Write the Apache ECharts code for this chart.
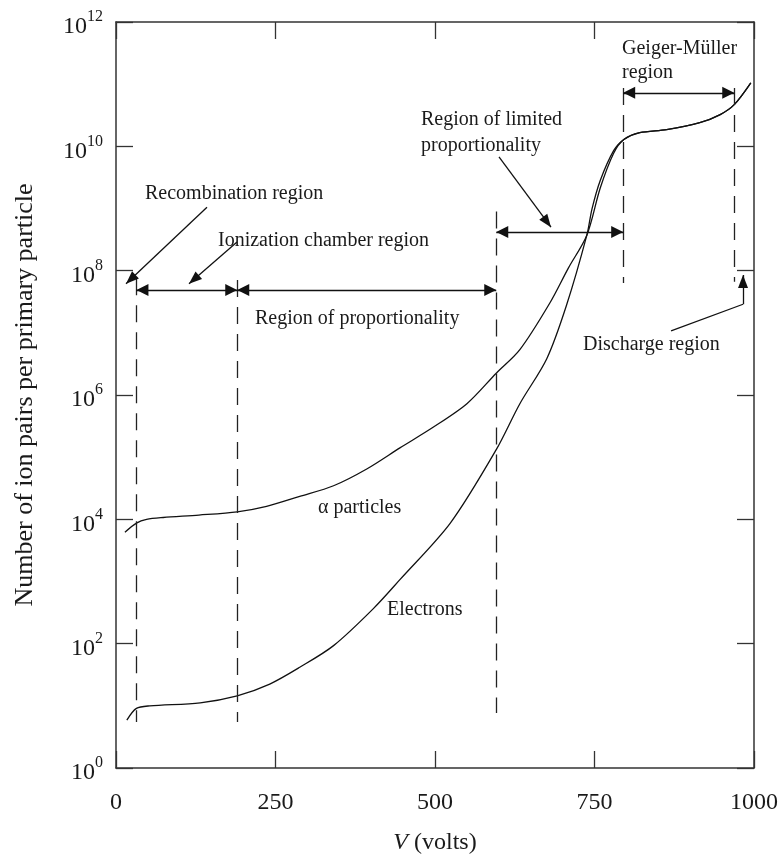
<!DOCTYPE html>
<html>
<head>
<meta charset="utf-8">
<script src="https://cdn.jsdelivr.net/npm/echarts@6/dist/echarts.min.js"></script>
<style>html,body{margin:0;padding:0;background:#fff}#chart{width:783px;height:855px}</style>
</head>
<body>
<div id="chart"></div>
<script>
// ---- data ----
const xTickValues = [0, 250, 500, 750, 1000];
const yTickExponents = [0, 2, 4, 6, 8, 10, 12];

const alphaVolts = [14, 32, 48, 74, 130, 190, 236, 288, 341, 393, 445, 497, 550, 596, 633, 680, 709, 738, 759, 780, 796, 821, 863, 915, 947, 969, 995];
const alphaPairs = [6.2e3, 8.7e3, 1.0e4, 1.07e4, 1.17e4, 1.32e4, 1.62e4, 2.34e4, 3.47e4, 6.46e4, 1.41e5, 3.02e5, 7.24e5, 2.24e6, 5.37e6, 3.02e7, 1.10e8, 3.72e8, 2.14e9, 7.76e9, 1.29e10, 1.66e10, 1.86e10, 2.40e10, 3.24e10, 4.68e10, 1.05e11];

const electronVolts = [17, 32, 53, 132, 190, 241, 288, 341, 403, 445, 524, 596, 633, 675, 706, 738, 746, 759, 780, 796, 821, 863, 915, 947, 969, 995];
const electronPairs = [5.9, 9.1, 10, 11.2, 14.5, 22.4, 41.7, 93, 363, 1.07e3, 8.7e3, 1.32e5, 7.24e5, 3.80e6, 2.75e7, 3.72e8, 9.77e8, 2.82e9, 8.51e9, 1.29e10, 1.66e10, 1.86e10, 2.40e10, 3.24e10, 4.68e10, 1.05e11];

// region boundaries (volts) and annotation geometry in data space [volts, log10(pairs)]
const dashedLines = [
  [[32, 7.88], [32, 0.74]],
  [[190, 7.85], [190, 0.74]],
  [[596, 8.95], [596, 0.885]],
  [[795, 10.94], [795, 7.80]],
  [[969, 10.94], [969, 7.82]]
];
const doubleArrows = [
  [[32, 7.69], [190, 7.69]],
  [[190, 7.69], [596, 7.69]],
  [[596, 8.62], [795, 8.62]],
  [[795, 10.86], [969, 10.86]]
];
const singleArrows = [
  [[142.6, 9.02], [15.7, 7.79]],
  [[189.7, 8.46], [114.4, 7.79]],
  [[600.3, 9.83], [681.8, 8.70]],
  [[982.8, 7.46], [982.8, 7.93]]
];
const plainLines = [
  [[870, 7.03], [982.8, 7.46]]
];

const annotationTexts = [
  ['Recombination region', 145, 194],
  ['Ionization chamber region', 218, 241],
  ['Region of proportionality', 255, 319],
  ['Region of limited', 421, 120],
  ['proportionality', 421, 146],
  ['Geiger-Müller', 622, 49],
  ['region', 622, 73],
  ['Discharge region', 583, 345],
  ['α particles', 318, 508],
  ['Electrons', 387, 610]
];

// ---- chart ----
const FONT = '"Liberation Serif", "Times New Roman", serif';
const INK = '#1a1a1a';
const AXIS = '#333';

const HEAD = { symbolOffset: [0, 6] };
const HEAD_WH = { symbolOffset: [0, 6.5], symbolSize: [10, 13] };

const toMl = (segs, fromExtra, toExtra) => segs.map(s => [
  Object.assign({ coord: [s[0][0], Math.pow(10, s[0][1])] }, fromExtra || {}),
  Object.assign({ coord: [s[1][0], Math.pow(10, s[1][1])] }, toExtra || {})
]);

const yLabelFormatter = v => '{b|10}{s|' + Math.round(Math.log10(v)) + '}';

const chart = echarts.init(document.getElementById('chart'), null, { renderer: 'canvas' });

const commonX = {
  type: 'value', min: 0, max: 1000, interval: 250,
  splitLine: { show: false },
  axisLine: { show: true, onZero: false, lineStyle: { color: AXIS, width: 1.5 } },
  axisTick: { show: true, inside: true, length: 17, lineStyle: { color: AXIS, width: 1.3 } }
};
const commonY = {
  type: 'log', logBase: 10, min: 1, max: 1e12, interval: 2,
  splitLine: { show: false },
  minorTick: { show: false },
  axisLine: { show: true, onZero: false, lineStyle: { color: AXIS, width: 1.5 } },
  axisTick: { show: true, inside: true, length: 17, lineStyle: { color: AXIS, width: 1.3 } }
};

const mlBase = {
  silent: true, animation: false, label: { show: false }, emphasis: { disabled: true },
  lineStyle: { color: '#111', width: 1.3, type: 'solid' }
};

chart.setOption({
  animation: false,
  backgroundColor: '#fff',
  grid: { left: 116, right: 29, top: 22, bottom: 87, containLabel: false, outerBoundsMode: 'none' },
  xAxis: [
    Object.assign({}, commonX, {
      position: 'bottom',
      name: '{i|V} (volts)',
      nameLocation: 'middle',
      nameGap: 63,
      nameTextStyle: { fontFamily: FONT, fontSize: 24, color: INK,
        rich: { i: { fontFamily: FONT, fontSize: 24, fontStyle: 'italic', color: INK } } },
      axisLabel: { show: true, margin: 23, fontFamily: FONT, fontSize: 24, color: INK,
        formatter: v => xTickValues.indexOf(v) >= 0 ? String(v) : '' }
    }),
    Object.assign({}, commonX, { position: 'top', axisLabel: { show: false } })
  ],
  yAxis: [
    Object.assign({}, commonY, {
      position: 'left',
      name: 'Number of ion pairs per primary particle',
      nameLocation: 'middle',
      nameGap: 78,
      nameTextStyle: { fontFamily: FONT, fontSize: 26, color: INK },
      axisLabel: {
        show: true, margin: 13, color: INK, fontFamily: FONT,
        formatter: yLabelFormatter,
        rich: {
          b: { fontFamily: FONT, fontSize: 24, color: INK, padding: [10, 0, 0, 0] },
          s: { fontFamily: FONT, fontSize: 16, color: INK, padding: [0, 0, 10, 0] }
        }
      }
    }),
    Object.assign({}, commonY, { position: 'right', axisLabel: { show: false } })
  ],
  series: [
    {
      name: 'α particles', type: 'line', xAxisIndex: 0, yAxisIndex: 0,
      data: alphaVolts.map((v, i) => [v, alphaPairs[i]]),
      smooth: 0.3, showSymbol: false, symbol: 'none',
      lineStyle: { color: '#111', width: 1.3 }, silent: true
    },
    {
      name: 'Electrons', type: 'line', xAxisIndex: 0, yAxisIndex: 0,
      data: electronVolts.map((v, i) => [v, electronPairs[i]]),
      smooth: 0.3, showSymbol: false, symbol: 'none',
      lineStyle: { color: '#111', width: 1.3 }, silent: true
    },
    {
      type: 'line', data: [], silent: true,
      markLine: Object.assign({}, mlBase, { symbol: ['none', 'none'],
        lineStyle: { color: '#222', width: 1.3, type: [17, 10] },
        data: toMl(dashedLines) })
    },
    {
      type: 'line', data: [], silent: true,
      markLine: Object.assign({}, mlBase, { symbol: ['triangle', 'triangle'], symbolSize: 12,
        data: toMl(doubleArrows, HEAD, HEAD) })
    },
    {
      type: 'line', data: [], silent: true,
      markLine: Object.assign({}, mlBase, { symbol: ['none', 'triangle'], symbolSize: 12,
        data: toMl(singleArrows, null, HEAD_WH) })
    },
    {
      type: 'line', data: [], silent: true,
      markLine: Object.assign({}, mlBase, { symbol: ['none', 'none'],
        data: toMl(plainLines) })
    }
  ],
  graphic: annotationTexts.map(t => ({
    type: 'text', x: t[1], y: t[2], silent: true, z: 10,
    style: { text: t[0], font: '20px ' + FONT, fill: INK, align: 'left', verticalAlign: 'middle' }
  }))
});
</script>
</body>
</html>
